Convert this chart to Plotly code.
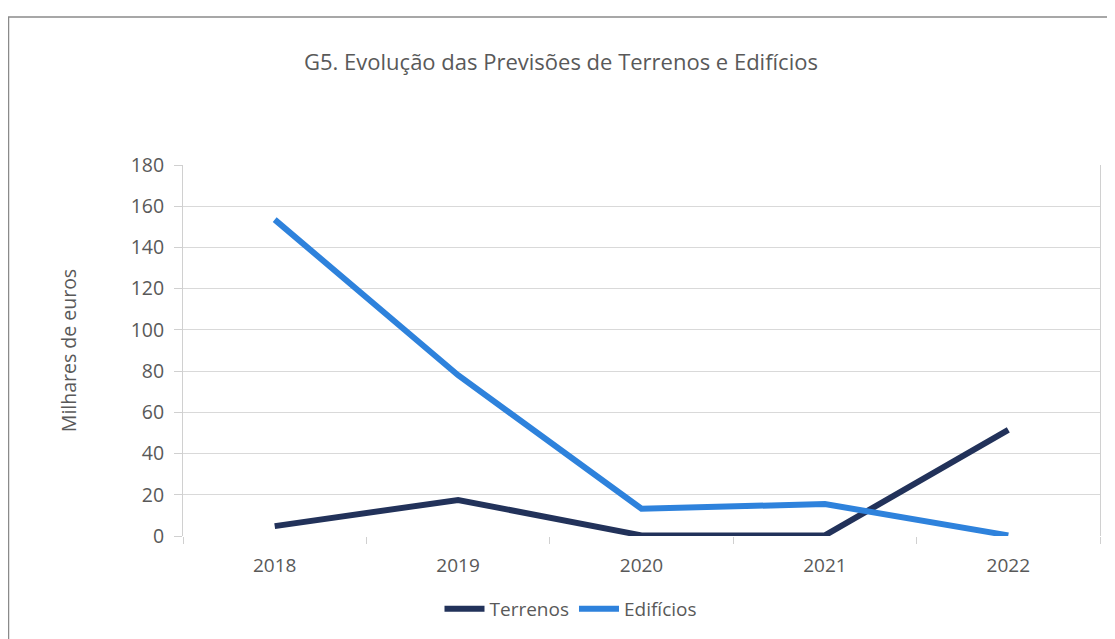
import plotly.graph_objects as go

years = ["2018", "2019", "2020", "2021", "2022"]
terrenos = [4.8, 17.5, 0.3, 0.3, 51.5]
edificios = [153.5, 78, 13.2, 15.5, 0.3]
yticks = [0, 20, 40, 60, 80, 100, 120, 140, 160, 180]

W, H = 1115, 639
OFF = 8  # page body margin offset
L, T = 183 - OFF, 165 - OFF
R = W - (1100 - OFF)
B = H - (536 - OFF)
font = "Open Sans"
grey = "#595959"

fig = go.Figure()
fig.add_trace(go.Scatter(x=years, y=terrenos, name="Terrenos", mode="lines",
                         line=dict(color="#22325a", width=6)))
fig.add_trace(go.Scatter(x=years, y=edificios, name="Edifícios", mode="lines",
                         line=dict(color="#2e82dc", width=6)))

pw = W - L - R
ph = H - T - B


def px_x(x):
    return (x - OFF - L) / pw


def px_y(y):
    return 1 - (y - OFF - T) / ph


fig.add_shape(type="rect", xref="paper", yref="paper",
              x0=px_x(8.5), x1=px_x(W + 40),
              y0=px_y(H + 40), y1=px_y(17),
              line=dict(color="#8a8a8a", width=1.5), layer="below")

fig.update_layout(
    width=W, height=H,
    margin=dict(l=L, r=R, t=T, b=B),
    paper_bgcolor="white", plot_bgcolor="white",
    font=dict(family=font, color=grey, size=19),
    title=dict(text="G5. Evolução das Previsões de Terrenos e Edifícios",
               x=(561 - OFF) / W, xanchor="center", y=1 - (62 - OFF) / H, yanchor="middle",
               font=dict(size=22, color=grey, family=font)),
    showlegend=True,
    legend=dict(orientation="h", x=px_x(571), xanchor="center",
                y=px_y(609), yanchor="middle", itemwidth=40,
                font=dict(size=19, color=grey, family=font)),
    xaxis=dict(type="category", tickson="boundaries", ticks="outside", ticklen=7,
               tickcolor="#d0d0d0", showgrid=False, showline=False,
               ticklabelstandoff=16,
               tickfont=dict(size=19, color=grey), range=[-0.5, 4.5]),
    yaxis=dict(range=[0, 180], tickvals=yticks, showgrid=True, gridcolor="#d9d9d9",
               gridwidth=1, ticks="outside", ticklen=8, tickcolor="#d0d0d0",
               showline=True, linecolor="#d0d0d0", mirror=True, zeroline=False,
               ticklabelstandoff=6,
               tickfont=dict(size=19.5, color=grey),
               title=dict(text="Milhares de euros", font=dict(size=19.5, color=grey),
                          standoff=48)),
)

fig.write_html("out.html")
